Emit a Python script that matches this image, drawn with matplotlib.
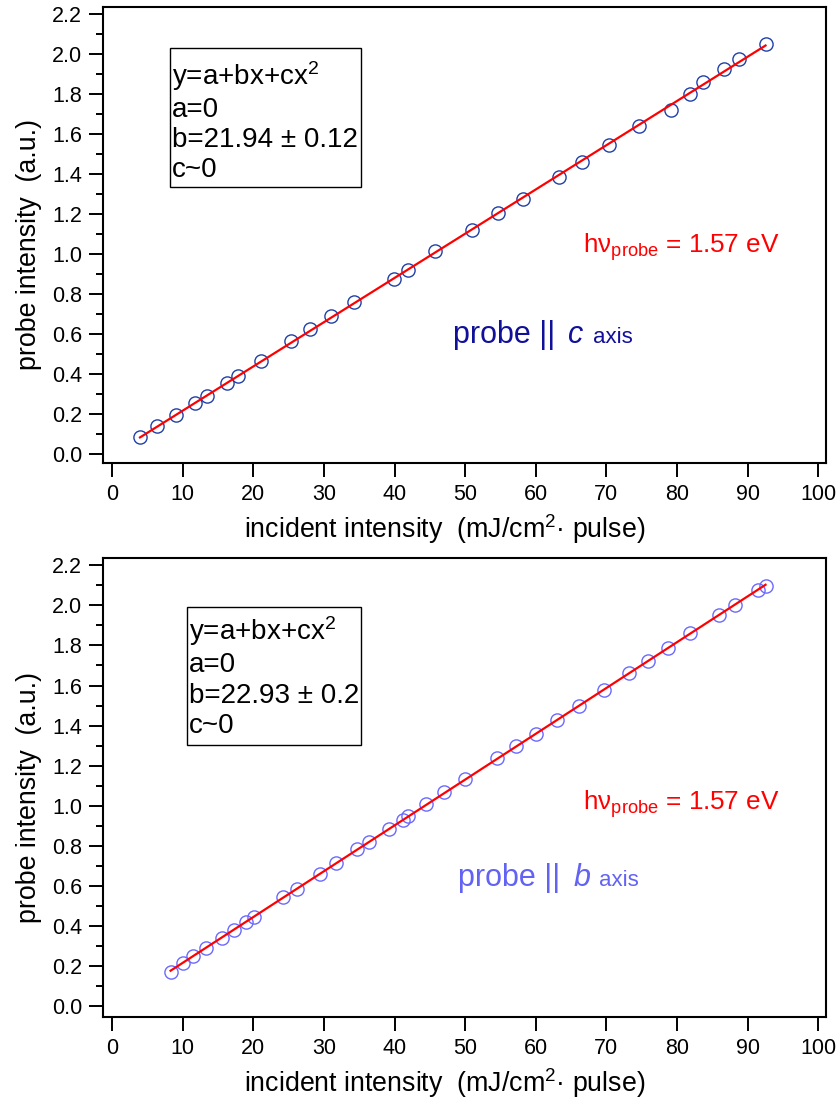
import matplotlib
matplotlib.use("Agg")
import matplotlib.pyplot as plt
from matplotlib.patches import Rectangle
from matplotlib.ticker import MultipleLocator, FormatStrFormatter
import numpy as np

plt.rcParams["font.family"] = ["Liberation Sans", "DejaVu Sans"]
plt.rcParams["mathtext.fontset"] = "custom"
plt.rcParams["mathtext.rm"] = "Liberation Sans"
plt.rcParams["mathtext.it"] = "Liberation Sans:italic"

# probe || c axis
x_c = [3.94, 6.35, 8.97, 11.79, 13.49, 16.31, 17.82, 21.14, 25.36, 28.08,
       30.99, 34.31, 39.94, 41.96, 45.78, 51.01, 54.63, 58.25, 63.28, 66.6,
       70.42, 74.64, 79.17, 81.88, 83.69, 86.71, 88.72, 92.54]
y_c = [0.083, 0.138, 0.195, 0.253, 0.292, 0.355, 0.392, 0.463, 0.563, 0.625,
       0.688, 0.76, 0.875, 0.92, 1.013, 1.121, 1.203, 1.277, 1.387, 1.462,
       1.547, 1.64, 1.72, 1.80, 1.863, 1.928, 1.977, 2.05]

# probe || b axis
x_b = [8.27, 9.98, 11.38, 13.29, 15.51, 17.22, 18.93, 20.13, 24.26, 26.17,
       29.49, 31.7, 34.72, 36.42, 39.24, 41.25, 41.86, 44.47, 46.98, 50.0,
       54.5, 57.14, 59.96, 62.98, 66.19, 69.71, 73.23, 75.85, 78.66, 81.88,
       85.91, 88.22, 91.44, 92.54]
y_b = [0.17, 0.215, 0.25, 0.29, 0.34, 0.38, 0.42, 0.447, 0.545, 0.587,
       0.66, 0.715, 0.785, 0.82, 0.885, 0.93, 0.95, 1.01, 1.067, 1.135,
       1.238, 1.30, 1.36, 1.43, 1.50, 1.58, 1.66, 1.72, 1.785, 1.86,
       1.95, 2.00, 2.077, 2.094]

fit_text_c = ["y=a+bx+cx$^{2}$", "a=0", "b=21.94 ± 0.12", "c~0"]
fit_text_b = ["y=a+bx+cx$^{2}$", "a=0", "b=22.93 ± 0.2", "c~0"]

fig = plt.figure(figsize=(8.36, 11.01), dpi=100)
ax1 = fig.add_axes([0.1232, 0.5795, 0.8648, 0.4142])
ax2 = fig.add_axes([0.1232, 0.0763, 0.8648, 0.4169])


def setup(ax, ylo):
    ax.set_xlim(-1.3, 101.1)
    ax.set_ylim(ylo, 2.236)
    ax.xaxis.set_major_locator(MultipleLocator(10))
    ax.yaxis.set_major_locator(MultipleLocator(0.2))
    ax.yaxis.set_minor_locator(MultipleLocator(0.1))
    ax.yaxis.set_major_formatter(FormatStrFormatter("%.1f"))
    ax.tick_params(direction="out", length=10, width=1.4, labelsize=15.5, pad=5)
    ax.tick_params(which="minor", direction="out", length=5, width=1.4)
    for s in ax.spines.values():
        s.set_linewidth(1.5)
    ax.set_xlabel("incident intensity  (mJ/cm$^{2}$· pulse)", fontsize=19.3, labelpad=5)
    ax.set_ylabel("probe intensity  (a.u.)", fontsize=19.3, labelpad=7)
    ax.xaxis.label.set_x(0.472)
    ax.yaxis.label.set_y(0.478)


def draw(ax, x, y, mcol):
    x = np.array(x)
    y = np.array(y)
    ax.plot(x, y, "o", ms=9.5, mfc="none", mec=mcol, mew=1.0, zorder=2)
    p = np.polyfit(x, y, 1)
    xx = np.array([x.min(), x.max()])
    ax.plot(xx, np.polyval(p, xx), color="red", lw=1.6, zorder=3)


def fit_box(ax, lines, x0, x1, ytop, ybot, baselines):
    ax.add_patch(Rectangle((x0, ybot), x1 - x0, ytop - ybot, transform=ax.transAxes,
                           fill=False, ec="black", lw=1.0))
    for t, yb in zip(lines, baselines):
        ax.text(x0 + 0.003, yb, t, transform=ax.transAxes, fontsize=20, va="baseline")


setup(ax1, -0.045)
draw(ax1, x_c, y_c, "#2040a8")
fit_box(ax1, fit_text_c, 0.0927, 0.3568, 0.910, 0.6053, [0.829, 0.7588, 0.693, 0.627])
ax1.text(66.7, 1.005, r"hν$_{\mathrm{probe}}$ = 1.57 eV", color="red", fontsize=18.8, va="baseline")
ax1.text(48.3, 0.556, "probe ||", color="#10109a", fontsize=22, va="baseline")
ax1.text(64.6, 0.556, "c", color="#10109a", fontsize=22, style="italic", va="baseline")
ax1.text(68.1, 0.556, "axis", color="#10109a", fontsize=16, va="baseline")

setup(ax2, -0.053)
draw(ax2, x_b, y_b, "#6a6aff")
fit_box(ax2, fit_text_b, 0.1162, 0.3568, 0.8932, 0.5926, [0.8214, 0.7516, 0.6841, 0.6187])
ax2.text(66.7, 0.98, r"hν$_{\mathrm{probe}}$ = 1.57 eV", color="red", fontsize=18.8, va="baseline")
ax2.text(49.0, 0.60, "probe ||", color="#6262f4", fontsize=22, va="baseline")
ax2.text(65.3, 0.60, "b", color="#6262f4", fontsize=22, style="italic", va="baseline")
ax2.text(69.0, 0.60, "axis", color="#6262f4", fontsize=16, va="baseline")

fig.savefig("out.png", dpi=100)
